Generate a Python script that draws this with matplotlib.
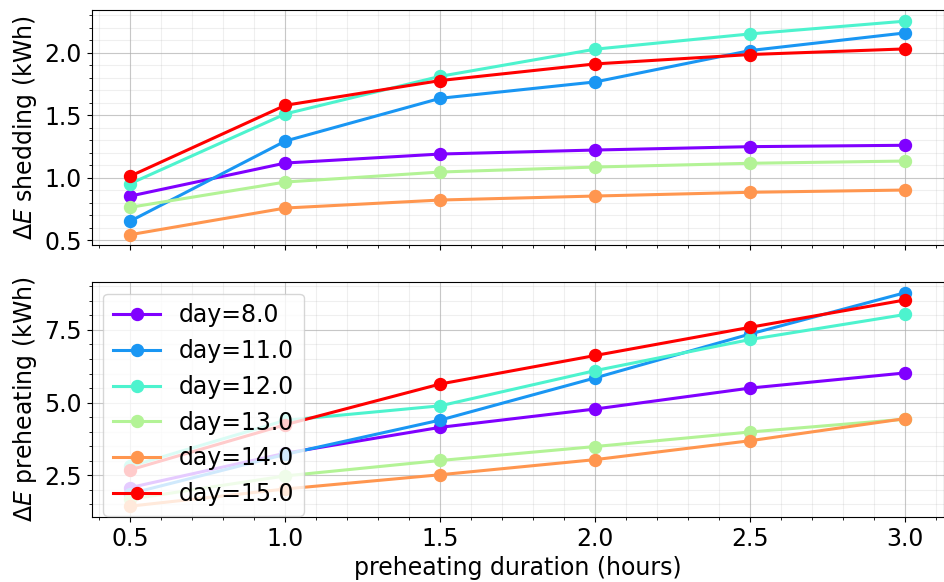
import matplotlib
matplotlib.use("Agg")
import matplotlib.pyplot as plt
from matplotlib.ticker import AutoMinorLocator, MultipleLocator
import numpy as np

plt.rcParams["font.size"] = 17
plt.rcParams["lines.linewidth"] = 2.2
plt.rcParams["lines.markersize"] = 8.6

durations = [0.5, 1.0, 1.5, 2.0, 2.5, 3.0]
days = [8.0, 11.0, 12.0, 13.0, 14.0, 15.0]

# delta E shedding (kWh), one list per day
shed_8 = [0.855, 1.119, 1.191, 1.223, 1.250, 1.261]
shed_11 = [0.655, 1.295, 1.637, 1.768, 2.019, 2.160]
shed_12 = [0.955, 1.512, 1.813, 2.030, 2.152, 2.254]
shed_13 = [0.765, 0.967, 1.047, 1.087, 1.117, 1.135]
shed_14 = [0.546, 0.759, 0.823, 0.855, 0.885, 0.903]
shed_15 = [1.015, 1.581, 1.779, 1.912, 1.987, 2.032]

# delta E preheating (kWh)
pre_8 = [2.08, 3.26, 4.15, 4.78, 5.50, 6.02]
pre_11 = [1.87, 3.22, 4.40, 5.85, 7.36, 8.78]
pre_12 = [2.81, 4.39, 4.89, 6.10, 7.17, 8.03]
pre_13 = [1.68, 2.48, 3.01, 3.49, 3.99, 4.43]
pre_14 = [1.44, 2.03, 2.52, 3.04, 3.69, 4.45]
pre_15 = [2.69, 4.24, 5.64, 6.62, 7.59, 8.53]

shedding = [shed_8, shed_11, shed_12, shed_13, shed_14, shed_15]
preheating = [pre_8, pre_11, pre_12, pre_13, pre_14, pre_15]

colors = plt.cm.rainbow(np.linspace(0, 1, len(days)))

fig, (ax1, ax2) = plt.subplots(2, 1, sharex=True, figsize=(9.45, 5.82), dpi=100)

for d, s, p, c in zip(days, shedding, preheating, colors):
    ax1.plot(durations, s, "-o", color=c, label="day=%.1f" % d)
    ax2.plot(durations, p, "-o", color=c, label="day=%.1f" % d)

ax1.yaxis.set_major_locator(MultipleLocator(0.5))
ax2.yaxis.set_major_locator(MultipleLocator(2.5))
ax2.xaxis.set_major_locator(MultipleLocator(0.5))
for ax in (ax1, ax2):
    ax.xaxis.set_minor_locator(AutoMinorLocator())
    ax.yaxis.set_minor_locator(AutoMinorLocator())
    ax.grid(which="major", color="#b0b0b0", alpha=0.7)
    ax.grid(which="minor", color="#b0b0b0", alpha=0.2)

ax1.set_ylabel(r"$\Delta E$ shedding (kWh)")
ax2.set_ylabel(r"$\Delta E$ preheating (kWh)")
ax2.set_xlabel("preheating duration (hours)")
ax2.legend(loc="upper left")

plt.subplots_adjust(left=0.097, right=0.999, top=0.982, bottom=0.112, hspace=0.156)
plt.savefig("out.png", dpi=100)
